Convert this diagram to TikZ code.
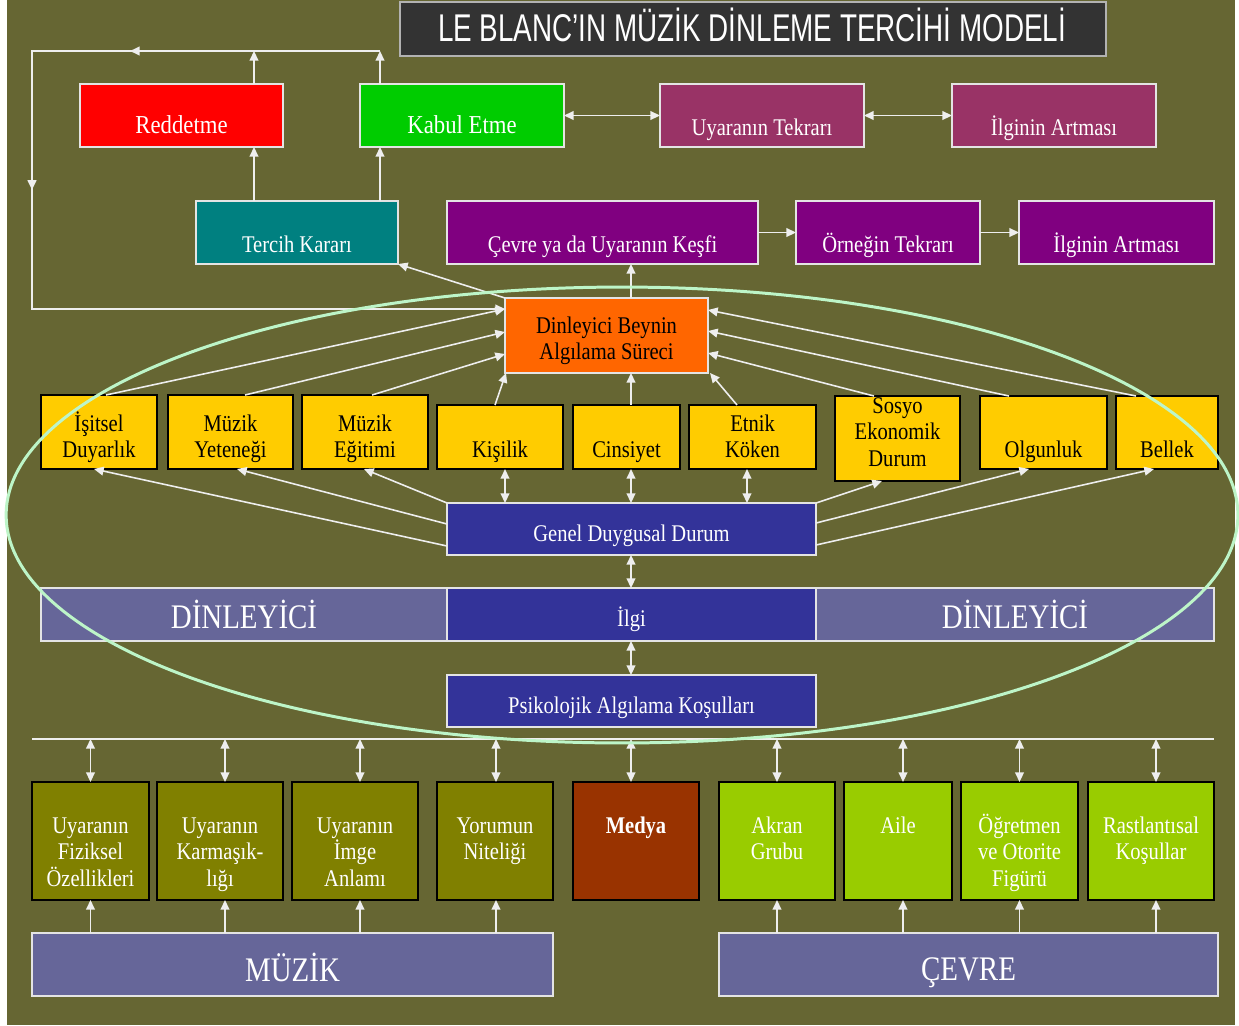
\documentclass[tikz,border=0pt]{standalone}
\usepackage{fontspec}
\setmainfont{Liberation Serif}
\newfontfamily\titlef{Liberation Sans}
\usetikzlibrary{arrows.meta,calc,decorations.markings}
\definecolor{bgol}{HTML}{666633}
\definecolor{ttl}{HTML}{333333}
\definecolor{cred}{HTML}{FF0000}
\definecolor{cgrn}{HTML}{00CC00}
\definecolor{cmar}{HTML}{993366}
\definecolor{cteal}{HTML}{008080}
\definecolor{cpur}{HTML}{800080}
\definecolor{corg}{HTML}{FF6600}
\definecolor{cyel}{HTML}{FFCC00}
\definecolor{cblu}{HTML}{333399}
\definecolor{clav}{HTML}{666699}
\definecolor{colv}{HTML}{808000}
\definecolor{cbrn}{HTML}{993300}
\definecolor{clim}{HTML}{99CC00}
\definecolor{linec}{HTML}{EEEEEE}
\definecolor{brdc}{HTML}{E4E4E4}
\definecolor{ellc}{HTML}{BDF5C8}
\newcommand\ml[2][0.86]{\scalebox{#1}[1]{\vtop{\lineskiplimit=-50pt\baselineskip=15.2pt\halign{\hfil##\hfil\cr#2\crcr}}}}
\newcommand\bx[6]{%
  \pgfmathsetmacro\bw{(#4-#2)*0.02}\pgfmathsetmacro\bh{(#5-#3)*0.02}%
  \node[#6, minimum width=\bw cm, minimum height=\bh cm] (#1) at ({(#2+#4)/2},{(#3+#5)/2}) {};}
\tikzset{
  boxw/.style={rectangle, inner sep=0pt, outer sep=0pt, draw=brdc, line width=0.85pt},
  boxk/.style={rectangle, inner sep=0pt, outer sep=0pt, draw=black, line width=1pt},
  txt/.style={anchor=base, inner sep=0pt, text=white, font=\fontsize{13.6}{15.2}\selectfont},
  txtk/.style={txt, text=black},
  txtbig/.style={txt, font=\fontsize{19.6}{22}\selectfont},
  tip/.tip={Triangle[length=5.5pt,width=5pt]},
  conn/.style={draw=linec, line width=0.9pt},
  arr/.style={conn, -tip},
  darr/.style={conn, tip-tip},
  ell/.style={draw=ellc, line width=1.7pt}
}
\begin{document}
\begin{tikzpicture}[x=0.02cm,y=-0.02cm]
\useasboundingbox (0,0) rectangle (1239,1025);
\fill[white] (0,0) rectangle (1239,1025);
\fill[bgol] (7,0) rectangle (1235,1025);
% title
\bx{title}{400}{2}{1106}{56}{rectangle, inner sep=0pt, fill=ttl, draw=gray!60, line width=0.8pt}
\node[txt, font=\titlef\fontsize{22}{24}\selectfont] (titleT) at (752,41) {\scalebox{0.72}[1]{LE BLANC’IN MÜZİK DİNLEME TERCİHİ MODELİ}};
% row 1
\bx{red}{80}{84}{283}{147}{boxw, fill=cred}
\bx{kabul}{360}{84}{564}{147}{boxw, fill=cgrn}
\bx{uyT}{660}{84}{864}{147}{boxw, fill=cmar}
\bx{ilg1}{952}{84}{1156}{147}{boxw, fill=cmar}
% row 2
\bx{tercih}{196}{201}{398}{264}{boxw, fill=cteal}
\bx{cevre}{447}{201}{758}{264}{boxw, fill=cpur}
\bx{ornek}{796}{201}{980}{264}{boxw, fill=cpur}
\bx{ilg2}{1019}{201}{1214}{264}{boxw, fill=cpur}
% centre
\bx{din}{505}{298}{708}{373}{boxw, fill=corg}
% yellow row
\bx{isit}{41}{395}{157}{469}{boxk, fill=cyel}
\bx{yet}{168}{395}{293}{469}{boxk, fill=cyel}
\bx{egit}{302}{395}{428}{469}{boxk, fill=cyel}
\bx{kisi}{437}{405}{563}{469}{boxk, fill=cyel}
\bx{cins}{573}{405}{680}{469}{boxk, fill=cyel}
\bx{etnik}{689}{405}{816}{469}{boxk, fill=cyel}
\bx{sosyo}{835}{396}{960}{481}{boxk, fill=cyel}
\bx{olg}{980}{396}{1107}{469}{boxk, fill=cyel}
\bx{bell}{1116}{396}{1218}{469}{boxk, fill=cyel}
% blue stack
\bx{genel}{447}{503}{816}{555}{boxw, fill=cblu}
\bx{dinL}{41}{588}{447}{641}{boxw, fill=clav}
\bx{ilgi}{447}{588}{816}{641}{boxw, fill=cblu}
\bx{dinR}{816}{588}{1214}{641}{boxw, fill=clav}
\bx{psik}{447}{675}{816}{727}{boxw, fill=cblu}
% bottom boxes
\bx{b1}{32}{782}{149}{900}{boxk, fill=colv}
\bx{b2}{157}{782}{283}{900}{boxk, fill=colv}
\bx{b3}{292}{782}{418}{900}{boxk, fill=colv}
\bx{b4}{437}{782}{553}{900}{boxk, fill=colv}
\bx{medya}{573}{782}{699}{900}{boxk, fill=cbrn}
\bx{akran}{719}{782}{835}{900}{boxk, fill=clim}
\bx{aile}{844}{782}{952}{900}{boxk, fill=clim}
\bx{ogret}{961}{782}{1078}{900}{boxk, fill=clim}
\bx{rast}{1088}{782}{1214}{900}{boxk, fill=clim}
\bx{muzik}{32}{933}{553}{996}{boxw, fill=clav}
\bx{cevreB}{719}{933}{1218}{996}{boxw, fill=clav}
% texts
\node[txt, font=\fontsize{14.7}{16}\selectfont] (redT) at (181.5,133) {\ml[0.88]{Reddetme}};
\node[txt, font=\fontsize{14.7}{16}\selectfont] (kabulT) at (462,133) {\ml[0.88]{Kabul Etme}};
\node[txt] (uyTT) at (762,135) {\ml{Uyaranın Tekrarı}};
\node[txt] (ilg1T) at (1054,135) {\ml{İlginin Artması}};
\node[txt] (tercihT) at (297,252) {\ml{Tercih Kararı}};
\node[txt] (cevreT) at (602.5,252) {\ml{Çevre ya da Uyaranın Keşfi}};
\node[txt] (ornekT) at (888,252) {\ml{Örneğin Tekrarı}};
\node[txt] (ilg2T) at (1116.5,252) {\ml{İlginin Artması}};
\node[txtk] (dinT) at (606.5,333) {\ml{Dinleyici Beynin\cr Algılama Süreci}};
\node[txtk] (isitT) at (99,431) {\ml{İşitsel\cr Duyarlık}};
\node[txtk] (yetT) at (230.5,431) {\ml{Müzik\cr Yeteneği}};
\node[txtk] (egitT) at (365,431) {\ml{Müzik\cr Eğitimi}};
\node[txtk] (kisiT) at (500,457) {\ml{Kişilik}};
\node[txtk] (cinsT) at (626.5,457) {\ml{Cinsiyet}};
\node[txtk] (etnikT) at (752.5,431) {\ml{Etnik\cr Köken}};
\node[txtk] (sosyoT) at (897.5,413) {\ml{Sosyo\cr Ekonomik\cr Durum}};
\node[txtk] (olgT) at (1043.5,457) {\ml{Olgunluk}};
\node[txtk] (bellT) at (1167,457) {\ml{Bellek}};
\node[txt] (genelT) at (631.5,541) {\ml{Genel Duygusal Durum}};
\node[txtbig] (dinLT) at (244,628) {\ml[0.84]{DİNLEYİCİ}};
\node[txt] (ilgiT) at (631.5,626) {\ml{İlgi}};
\node[txtbig] (dinRT) at (1015,628) {\ml[0.84]{DİNLEYİCİ}};
\node[txt] (psikT) at (631.5,713) {\ml{Psikolojik Algılama Koşulları}};
\node[txt] (b1T) at (90.5,833) {\ml{Uyaranın\cr Fiziksel\cr Özellikleri}};
\node[txt] (b2T) at (220,833) {\ml{Uyaranın\cr Karmaşık-\cr lığı}};
\node[txt] (b3T) at (355,833) {\ml{Uyaranın\cr İmge\cr Anlamı}};
\node[txt] (b4T) at (495,833) {\ml{Yorumun\cr Niteliği}};
\node[txt] (medyaT) at (636,833) {\ml{\bfseries Medya}};
\node[txt] (akranT) at (777,833) {\ml{Akran\cr Grubu}};
\node[txt] (aileT) at (898,833) {\ml{Aile}};
\node[txt] (ogretT) at (1019.5,833) {\ml{Öğretmen\cr ve Otorite\cr Figürü}};
\node[txt] (rastT) at (1151,833) {\ml{Rastlantısal\cr Koşullar}};
\node[txtbig] (muzikT) at (292.5,981) {\ml[0.84]{MÜZİK}};
\node[txtbig] (cevreBT) at (968.5,980) {\ml[0.84]{ÇEVRE}};
% column coordinates
\coordinate (cA) at (254,0);
\coordinate (cB) at (380,0);
\coordinate (cC) at (631,0);
\coordinate (cD) at (505,0);
\coordinate (cE) at (747,0);
\coordinate (fbTR) at (380,51);
\coordinate (fbTL) at (32,51);
\coordinate (fbBL) at (32,309);
% top connectors
\draw[darr] (kabul.east) -- (uyT.west);
\draw[darr] (uyT.east) -- (ilg1.west);
\draw[arr] (cevre.east) -- (ornek.west);
\draw[arr] (ornek.east) -- (ilg2.west);
\draw[arr] (tercih.north -| cA) -- (red.south -| cA);
\draw[arr] (tercih.north -| cB) -- (kabul.south -| cB);
\draw[arr] (red.north -| cA) -- (cA |- fbTR);
\draw[arr] (kabul.north -| cB) -- (fbTR);
\draw[arr, postaction={decorate}, decoration={markings,
   mark=at position 5cm with {\arrow{tip}},
   mark=at position 9.74cm with {\arrow{tip}}}]
   (fbTR) -- (fbTL) -- (fbBL) -- ($(din.west)+(0,-26.5)$);
\draw[arr] (din.north west) -- (tercih.south east);
\draw[arr] (din.north -| cC) -- (cevre.south -| cC);
% yellow -> centre
\draw[arr] ($(isit.north)+(7,0)$) -- ($(din.west)+(0,-26.5)$);
\draw[arr] ($(yet.north)+(14.5,0)$) -- ($(din.west)+(0,-3.5)$);
\draw[arr] ($(egit.north)+(7,0)$) -- ($(din.west)+(0,18.5)$);
\draw[arr] ($(kisi.north)+(-5,0)$) -- ($(din.south west)+(1,0)$);
\draw[arr] (cins.north -| cC) -- (din.south -| cC);
\draw[arr] ($(etnik.north)+(-15.5,0)$) -- ($(din.south east)+(2,0)$);
\draw[arr] ($(sosyo.north)+(-23.5,0)$) -- ($(din.east)+(0,17.5)$);
\draw[arr] ($(olg.north)+(-34.5,0)$) -- ($(din.east)+(0,-4.5)$);
\draw[arr] ($(bell.north)+(-31,0)$) -- ($(din.east)+(0,-25.5)$);
% genel -> yellow
\draw[arr] ($(genel.west)+(0,17)$) -- ($(isit.south)+(-5,0)$);
\draw[arr] ($(genel.west)+(0,-5)$) -- ($(yet.south)+(6.5,0)$);
\draw[arr] (genel.north west) -- ($(egit.south)+(-1,0)$);
\draw[darr] (kisi.south -| cD) -- (genel.north -| cD);
\draw[darr] (cins.south -| cC) -- (genel.north -| cC);
\draw[darr] (etnik.south -| cE) -- (genel.north -| cE);
\draw[arr] (genel.north east) -- ($(sosyo.south)+(-15.5,0)$);
\draw[arr] ($(genel.east)+(0,-6)$) -- ($(olg.south)+(-14.5,0)$);
\draw[arr] ($(genel.east)+(0,16)$) -- ($(bell.south)+(-13,0)$);
\draw[darr] (genel.south -| cC) -- (ilgi.north -| cC);
\draw[darr] (ilgi.south -| cC) -- (psik.north -| cC);
% bottom
\coordinate (hlL) at (32,739);
\coordinate (hlR) at (1214,739);
\draw[conn, line width=0.7pt] (hlL) -- (hlR);
\coordinate (k1) at (b1.north);
\coordinate (k2) at ($(b2.north)+(5,0)$);
\coordinate (k3) at ($(b3.north)+(5,0)$);
\coordinate (k4) at ($(b4.north)+(1,0)$);
\coordinate (k5) at ($(medya.north)+(-5,0)$);
\coordinate (k6) at (akran.north);
\coordinate (k7) at ($(aile.north)+(5,0)$);
\coordinate (k8) at (ogret.north);
\coordinate (k9) at ($(rast.north)+(5,0)$);
\foreach \k in {k1,k2,k3,k4,k5,k6,k7,k8,k9}
  \draw[darr] (\k |- hlL) -- (\k);
\draw[arr] (k1 |- muzik.north) -- (k1 |- b1.south);
\draw[arr] (k2 |- muzik.north) -- (k2 |- b2.south);
\draw[arr] (k3 |- muzik.north) -- (k3 |- b3.south);
\draw[arr] (k4 |- muzik.north) -- (k4 |- b4.south);
\draw[arr] (k6 |- cevreB.north) -- (k6 |- akran.south);
\draw[arr] (k7 |- cevreB.north) -- (k7 |- aile.south);
\draw[arr] (k8 |- cevreB.north) -- (k8 |- ogret.south);
\draw[arr] (k9 |- cevreB.north) -- (k9 |- rast.south);
% ellipse
\draw[ell] (622,515) ellipse [x radius=12.32cm, y radius=4.56cm];
\end{tikzpicture}
\end{document}
